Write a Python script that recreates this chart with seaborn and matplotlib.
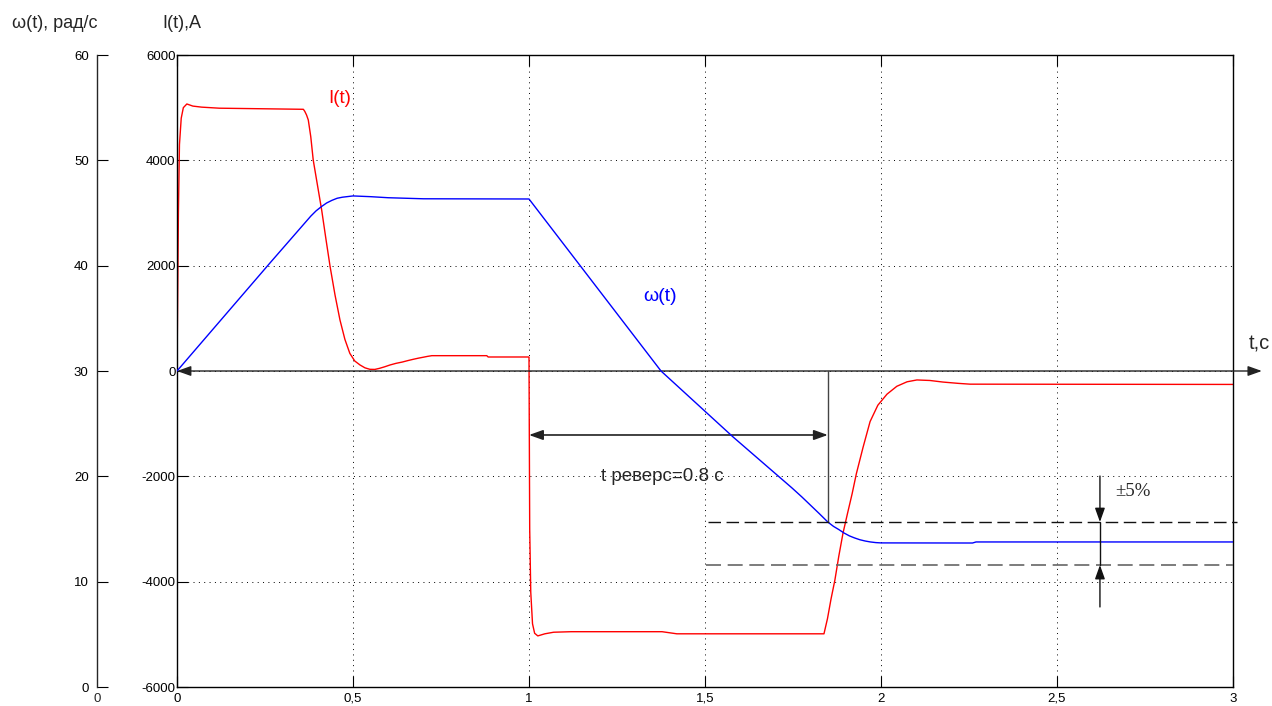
import matplotlib
matplotlib.use("Agg")
import matplotlib.pyplot as plt
import pandas as pd
import seaborn as sns

# Armature current I(t), A
t_current = [0.0, 0.002, 0.004, 0.007, 0.012, 0.018, 0.028, 0.045, 0.07, 0.12,
             0.359, 0.363, 0.368, 0.373, 0.380, 0.387, 0.399, 0.411, 0.423, 0.435,
             0.449, 0.463, 0.477, 0.491, 0.505, 0.520, 0.534, 0.548, 0.562,
             0.575, 0.590, 0.605, 0.622, 0.640, 0.656, 0.671, 0.686, 0.700, 0.712,
             0.724, 0.880, 0.884, 0.997,
             1.000, 1.002, 1.005, 1.010, 1.016, 1.025, 1.035, 1.045, 1.070, 1.120,
             1.378, 1.420, 1.838, 1.848, 1.858, 1.869, 1.880, 1.892, 1.905, 1.918,
             1.930, 1.949, 1.969, 1.991, 2.017, 2.045, 2.074, 2.102, 2.139, 2.176,
             2.220, 2.253, 3.0]
current = [0, 1500, 3000, 4300, 4800, 5000, 5070, 5030, 5010, 4990,
           4969, 4930, 4861, 4766, 4450, 4006, 3530, 3057, 2510, 1980,
           1440, 968, 600, 335, 190, 114, 60, 32, 30,
           50, 80, 114, 145, 170, 198, 222, 244, 262, 278,
           291, 291, 266, 266,
           265, -3000, -4200, -4800, -4980, -5030, -5010, -4990, -4960, -4950,
           -4950, -4990, -4990, -4700, -4330, -3970, -3520, -3080, -2700, -2330,
           -1950, -1450, -960, -650, -440, -290, -205, -170, -180, -210,
           -235, -250, -255]

# Motor speed w(t) on the rad/s scale
t_speed = [0.0, 0.264, 0.38, 0.395, 0.41, 0.425, 0.44, 0.455, 0.47, 0.50, 0.55,
           0.60, 0.70, 1.0, 1.375, 1.58, 1.747, 1.775, 1.80, 1.825, 1.849, 1.865,
           1.88, 1.895, 1.91, 1.925, 1.94, 1.955, 1.97, 1.985, 2.0, 2.26, 2.27, 3.0]
speed = [30.0, 40.25, 44.7, 45.2, 45.6, 45.95, 46.2, 46.4, 46.5, 46.62, 46.55,
         46.45, 46.35, 46.33, 30.0, 23.73, 18.9, 18.05, 17.25, 16.45, 15.66, 15.25,
         14.95, 14.62, 14.35, 14.15, 13.98, 13.86, 13.77, 13.71, 13.68, 13.67,
         13.77, 13.77]

x_ticks = [0, 0.5, 1, 1.5, 2, 2.5, 3]
x_tick_labels = ["0", "0,5", "1", "1,5", "2", "2,5", "3"]
i_ticks = [-6000, -4000, -2000, 0, 2000, 4000, 6000]
w_ticks = [0, 10, 20, 30, 40, 50, 60]

# +/-5 % band around the steady reverse speed
band_upper, band_lower = 15.66, 11.58
t_reverse_start, t_reverse_end = 1.0, 1.849

sns.set_style("ticks")
plt.rcParams["font.family"] = ["Liberation Sans", "DejaVu Sans"]
plt.rcParams["axes.linewidth"] = 1.0
plt.rcParams["axes.unicode_minus"] = False

W, H = 1272, 706
fig = plt.figure(figsize=(W / 100, H / 100), dpi=100)
left, bottom, width, height = 177 / W, 19 / H, 1056 / W, 632 / H

ax = fig.add_axes([left, bottom, width, height])
df_i = pd.DataFrame({"t": t_current, "I": current})
sns.lineplot(data=df_i, x="t", y="I", ax=ax, color="#ff0000", lw=1.0,
             estimator=None, sort=False)
ax.set_xlim(0, 3)
ax.set_ylim(-6000, 6000)
ax.set_xticks(x_ticks)
ax.set_xticklabels(x_tick_labels)
ax.set_yticks(i_ticks)
ax.set_xlabel("")
ax.set_ylabel("")
for s in ax.spines.values():
    s.set_visible(True)
    s.set_color("black")
    s.set_linewidth(1.0)
ax.tick_params(direction="in", length=8, width=0.8, top=True, right=True,
               labelsize=9.5, colors="black")
ax.tick_params(axis="y", pad=1)
ax.tick_params(axis="x", pad=4)
ax.grid(True, linestyle=(0, (1, 4.5)), color="black", lw=0.7)

# speed curve on its own scale, sharing the time axis
ax2 = ax.twinx()
df_w = pd.DataFrame({"t": t_speed, "w": speed})
sns.lineplot(data=df_w, x="t", y="w", ax=ax2, color="#0000ff", lw=1.0,
             estimator=None, sort=False)
ax2.set_ylim(0, 60)
ax2.set_xlim(0, 3)
ax2.set_axis_off()

# separate speed scale on the far left
axw = fig.add_axes([97 / W, bottom, 0.0005, height])
axw.set_ylim(0, 60)
axw.set_xlim(0, 1)
axw.set_yticks(w_ticks)
axw.set_xticks([0])
axw.set_xticklabels(["0"])
for name in ("top", "right", "bottom"):
    axw.spines[name].set_visible(False)
axw.spines["left"].set_linewidth(1.0)
axw.tick_params(axis="y", direction="in", length=8, width=0.8, pad=6,
                labelsize=9.5, colors="black")
axw.tick_params(axis="x", length=0, pad=4, labelsize=9.5)
axw.patch.set_alpha(0)

# time axis arrow through zero current
ax.annotate("", xy=(3.082, 0), xytext=(0, 0), annotation_clip=False,
            arrowprops=dict(arrowstyle="<|-|>,head_length=0.7,head_width=0.25",
                            color="#222222", lw=1.0, mutation_scale=12,
                            shrinkA=0, shrinkB=0))
fig.text(1259 / W, 1 - 344 / H, "t,c", fontsize=14.5, ha="center", va="center")

# reverse time marker
ax2.plot([t_reverse_end, t_reverse_end], [30, band_upper], color="#444444", lw=1.0)
ax.annotate("", xy=(t_reverse_end, -1215), xytext=(t_reverse_start, -1215),
            arrowprops=dict(arrowstyle="<|-|>,head_length=0.7,head_width=0.25",
                            color="#222222", lw=1.2, mutation_scale=12,
                            shrinkA=0, shrinkB=0))
ax.text(1.378, -1994, "t реверс=0.8 с", fontsize=13.5, ha="center", va="center")

# tolerance band
ax2.plot([1.509, 3.012], [band_upper, band_upper], color="#111111", lw=1.0,
         dashes=(9, 4), clip_on=False)
ax2.plot([1.503, 3.0], [band_lower, band_lower], color="#666666", lw=1.2,
         dashes=(9, 4), clip_on=False)
t_band = 2.622
ax2.annotate("", xy=(t_band, band_upper), xytext=(t_band, 20.03),
             arrowprops=dict(arrowstyle="-|>,head_length=0.7,head_width=0.25",
                             color="#111111", lw=1.0, mutation_scale=12,
                             shrinkA=0, shrinkB=0))
ax2.annotate("", xy=(t_band, band_lower), xytext=(t_band, 7.6),
             arrowprops=dict(arrowstyle="-|>,head_length=0.7,head_width=0.25",
                             color="#111111", lw=1.0, mutation_scale=12,
                             shrinkA=0, shrinkB=0))
ax2.plot([t_band, t_band], [band_upper, band_lower], color="#111111", lw=1.0)
ax.text(2.716, -2297, "±5%", family=["Liberation Serif", "DejaVu Serif"],
        fontsize=13.5, ha="center", va="center")

# curve labels
ax.text(0.463, 5183, "I(t)", color="#ff0000", fontsize=13.5, ha="center", va="center")
ax.text(1.372, 1424, "ω(t)", color="#0000ff", fontsize=14, ha="center", va="center")

# scale titles
fig.text(55 / W, 1 - 24 / H, "ω(t), рад/с", fontsize=13, ha="center", va="center")
fig.text(182 / W, 1 - 24 / H, "I(t),A", fontsize=13, ha="center", va="center")

fig.savefig("out.png", dpi=100)
